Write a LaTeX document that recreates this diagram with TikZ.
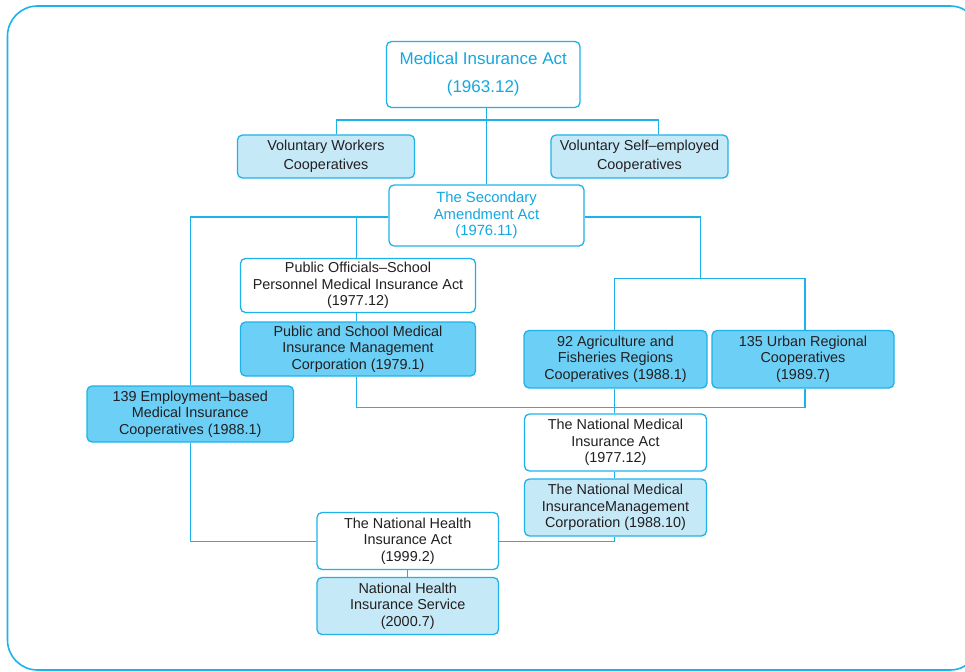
\documentclass[tikz,border=0pt]{standalone}
\usepackage{fontspec}
\setmainfont{Liberation Sans}
\definecolor{cyanline}{HTML}{1DB3EA}
\definecolor{cyantext}{HTML}{13A8E2}
\definecolor{lightfill}{HTML}{C6E9F8}
\definecolor{darkfill}{HTML}{6CCFF6}
\definecolor{textgray}{HTML}{231F20}
\tikzset{
  box/.style={draw=cyanline, line width=1.3pt, rounded corners=5pt, align=center,
    inner sep=0pt, text=textgray, font=\fontsize{14.4}{16.5}\selectfont},
  twoline/.style={font=\fontsize{14.4}{19.5}\selectfont},
  plainbox/.style={box, fill=white},
  lightbox/.style={box, fill=lightfill},
  darkbox/.style={box, fill=darkfill},
  headbox/.style={plainbox, text=cyantext},
  link/.style={draw=cyanline, line width=1.3pt},
  frame/.style={draw=cyanline, line width=1.6pt, rounded corners=30pt}
}
\begin{document}
\begin{tikzpicture}[x=1pt, y=-1pt]
\useasboundingbox (0,0) rectangle (965,671);
\draw[frame] (7.5,6) rectangle (980,670);

% acts and insurers
\node[headbox, minimum width=193.5pt, minimum height=66pt,
      font=\fontsize{17}{28}\selectfont] (mia) at (483.25,74.5)
      {\raisebox{-2pt}{Medical Insurance Act}\\\raisebox{-2pt}{(1963.12)}};
\node[lightbox, twoline, minimum width=177pt, minimum height=43pt] (vw) at (326,156.5)
      {Voluntary Workers\\Cooperatives};
\node[lightbox, twoline, minimum width=177pt, minimum height=43pt] (vs) at (639.5,156.5)
      {Voluntary Self–employed\\Cooperatives};
\node[headbox, minimum width=195pt, minimum height=61pt,
      font=\fontsize{14.8}{16.5}\selectfont] (sec) at (486.5,215.5)
      {The Secondary\\Amendment Act\\(1976.11)};
\node[plainbox, minimum width=235pt, minimum height=54pt] (pos) at (358,285.5)
      {Public Officials–School\\Personnel Medical Insurance Act\\(1977.12)};
\node[darkbox, minimum width=235pt, minimum height=54pt] (psc) at (358,349)
      {Public and School Medical\\Insurance Management\\Corporation (1979.1)};
\node[darkbox, minimum width=183pt, minimum height=57.5pt] (agr) at (615.5,359.25)
      {92 Agriculture and\\Fisheries Regions\\Cooperatives (1988.1)};
\node[darkbox, minimum width=182pt, minimum height=57.5pt] (urb) at (803,359.25)
      {135 Urban Regional\\Cooperatives\\(1989.7)};
\node[darkbox, minimum width=206.5pt, minimum height=56pt] (emp) at (190.25,414)
      {139 Employment–based\\Medical Insurance\\Cooperatives (1988.1)};
\node[plainbox, minimum width=182pt, minimum height=57pt] (nma) at (615.5,442.5)
      {The National Medical\\Insurance Act\\(1977.12)};
\node[lightbox, minimum width=182pt, minimum height=57pt] (nmc) at (615.5,507.5)
      {The National Medical\\InsuranceManagement\\Corporation (1988.10)};
\node[plainbox, minimum width=181.5pt, minimum height=57pt] (nha) at (407.75,541)
      {The National Health\\Insurance Act\\(1999.2)};
\node[lightbox, minimum width=181.5pt, minimum height=57pt] (nhs) at (407.75,606)
      {National Health\\Insurance Service\\(2000.7)};

% junction points of the connectors
\coordinate (t1) at (336.5,120);
\coordinate (t2) at (658.5,120);
\coordinate (jL) at (190.5,217);
\coordinate (jP) at (356.5,217);
\coordinate (jR) at (700.5,217);
\coordinate (jRd) at (700.5,278.5);
\coordinate (hA) at (614.5,278.5);
\coordinate (hU) at (805,278.5);
\coordinate (bP) at (356.5,407.5);
\coordinate (bU) at (805,407.5);
\coordinate (cL) at (190.5,541.5);
\coordinate (cR) at (614.5,541.5);

% connectors
\draw[link] (sec.north) -- (sec.north |- mia.south);
\draw[link] (t1 |- vw.north) -- (t1) -- (t2) -- (t2 |- vs.north);
\draw[link] (sec.west |- jL) -- (jL) -- (jL |- emp.north);
\draw[link] (jP) -- (jP |- pos.north);
\draw[link] (jP |- pos.south) -- (jP |- psc.north);
\draw[link] (sec.east |- jR) -- (jR) -- (jRd);
\draw[link] (hA |- agr.north) -- (hA) -- (hU) -- (hU |- urb.north);
\draw[link] (jP |- psc.south) -- (bP) -- (bU) -- (bU |- urb.south);
\draw[link] (hA |- agr.south) -- (hA |- nma.north);
\draw[link] (hA |- nma.south) -- (hA |- nmc.north);
\draw[link] (hA |- nmc.south) -- (cR) -- (cR -| nha.east);
\draw[link] (jL |- emp.south) -- (cL) -- (cL -| nha.west);
\draw[link] (nha.south) -- (nhs.north);
\end{tikzpicture}
\end{document}
